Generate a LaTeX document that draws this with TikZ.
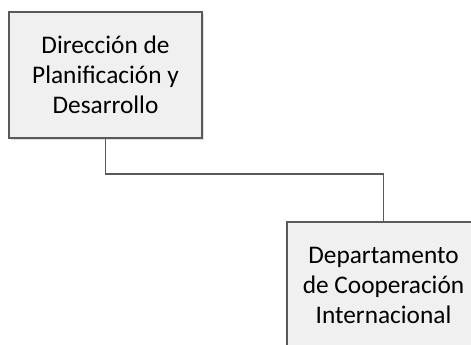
\documentclass[tikz,border=0pt]{standalone}
\usepackage{fontspec}
\setmainfont{Carlito}
\usetikzlibrary{shadows}
\definecolor{orgline}{RGB}{90,90,90}
\definecolor{orgfill}{RGB}{240,240,240}

\begin{document}
\begin{tikzpicture}[
    x=0.75pt, y=-0.75pt,
    unit/.style={rectangle, draw=orgline, line width=1.3pt, fill=orgfill, minimum width=193*0.75pt, minimum height=126*0.75pt, align=center, font=\fontsize{19pt}{22.5pt}\selectfont, drop shadow={shadow xshift=1.2pt, shadow yshift=-1.2pt, fill=black!20, opacity=0.6}},
    link/.style={orgline, line width=1.3pt}
]
\useasboundingbox (0,0) rectangle (471,344);
\clip (0,0) rectangle (471,344);

% Org chart boxes
\node[unit] (direccion) at (105.5,75) {Dirección de\\Planificación y\\Desarrollo};
\node[unit] (cooperacion) at (383.5,285) {Departamento\\de Cooperación\\Internacional};

% Connector
\draw[link] (direccion.south) -- ++(0,35) -| (cooperacion.north);

\end{tikzpicture}
\end{document}
